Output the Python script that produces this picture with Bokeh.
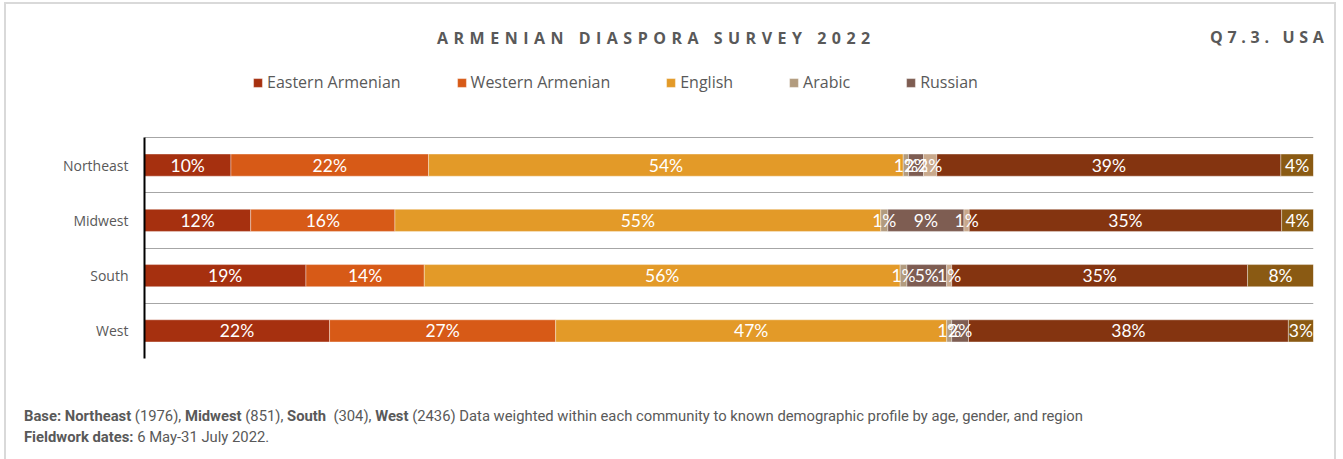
from bokeh.plotting import figure
from bokeh.models import (ColumnDataSource, Legend, LegendItem, LabelSet,
                          FixedTicker, Range1d, Div)
from bokeh.core.properties import value
from bokeh.layouts import column
from bokeh.embed import file_html
from bokeh.resources import INLINE

# ---------------- data (percent) ----------------
regions = ["Northeast", "Midwest", "South", "West"]
series = ["Eastern Armenian", "Western Armenian", "English", "Arabic", "Russian",
          "Other", "Mixed", "Don't know"]
eastern_armenian = [9.8, 12.0, 19.1, 22.1]
western_armenian = [22.4, 16.3, 14.0, 27.0]
english = [53.8, 54.9, 56.3, 46.7]
arabic = [0.6, 0.8, 0.8, 0.6]
russian = [1.7, 8.6, 4.7, 2.0]
other = [1.5, 0.6, 0.6, 0.0]
mixed = [39.0, 35.3, 35.0, 38.2]
dont_know = [3.7, 3.6, 7.8, 3.0]
colors = ["#A6300F", "#D75A17", "#E39A28", "#B29B7E", "#7E5D52",
          "#C9A98C", "#843410", "#8A5A13"]
legend_count = 5

values = [eastern_armenian, western_armenian, english, arabic, russian,
          other, mixed, dont_know]

# ---------------- build sources (100% stacked) ----------------
n = len(regions)
ypos = [n - i - 0.5 for i in range(n)]
totals = [sum(v[i] for v in values) for i in range(n)]
keys = [f"s{k}" for k in range(len(series))]
data = {"y": ypos}
for k, v in zip(keys, values):
    data[k] = [v[i] / totals[i] * 100 for i in range(n)]
source = ColumnDataSource(data)

lx, ly, lt = [], [], []
for i in range(n):
    cum = 0.0
    for v in values:
        w = v[i] / totals[i] * 100
        if v[i] > 0:
            lx.append(cum + w / 2)
            ly.append(ypos[i])
            lt.append(f"{round(v[i])}%")
        cum += w
label_source = ColumnDataSource(dict(x=lx, y=ly, t=lt))

# ---------------- figure ----------------
W = 1343
FRAME_H = 288          # frame height in px (top area holds the legend)
BARS_H = 221           # px occupied by the category rows
p = figure(width=W, height=320, output_backend="svg", toolbar_location=None,
           x_range=Range1d(0, 100), y_range=Range1d(0, n * FRAME_H / BARS_H),
           min_border_left=144, min_border_right=30,
           min_border_top=0, min_border_bottom=32)
p.outline_line_color = None
p.background_fill_color = None
p.border_fill_color = None

renderers = p.hbar_stack(keys, y="y", height=0.4, color=colors, source=source,
                         line_color="white", line_width=0.6, line_alpha=0.6)

labels = LabelSet(x="x", y="y", text="t", source=label_source,
                  text_align="center", text_baseline="middle",
                  text_color="white", text_font=value("Lato"),
                  text_font_size="17.5px")
p.add_layout(labels)

p.xaxis.visible = False
p.xgrid.visible = False
p.ygrid.ticker = FixedTicker(ticks=list(range(n + 1)))
p.ygrid.grid_line_color = "#A6A6A6"
p.ygrid.grid_line_width = 1

p.yaxis.ticker = FixedTicker(ticks=ypos)
p.yaxis.bounds = (0, n)
p.yaxis.major_label_overrides = {y: r for y, r in zip(ypos, regions)}
p.yaxis.axis_line_color = "black"
p.yaxis.axis_line_width = 2
p.yaxis.major_tick_line_color = None
p.yaxis.minor_tick_line_color = None
p.yaxis.major_label_standoff = 10
p.yaxis.major_label_text_font = "Open Sans"
p.yaxis.major_label_text_font_size = "14px"
p.yaxis.major_label_text_color = "#595959"

items = [LegendItem(label=series[k], renderers=[renderers[k]])
         for k in range(legend_count)]
legend = Legend(items=items, orientation="horizontal", location=(108, 265),
                spacing=55, padding=0, margin=0, glyph_width=11, glyph_height=11,
                label_standoff=4, label_text_font="Open Sans",
                label_text_font_size="16px", label_text_color="#595959",
                border_line_color=None, background_fill_alpha=0)
p.add_layout(legend, "center")

# ---------------- header / footer ----------------
header = Div(width=W, height=70, margin=0, text=(
    "<div style='position:relative;width:1343px;height:70px;font-family:\"Open Sans\";"
    "color:#595959;font-weight:bold;'>"
    "<div style='position:absolute;left:437px;top:27px;font-size:16px;letter-spacing:5.5px;"
    "white-space:nowrap;'>ARMENIAN DIASPORA SURVEY 2022</div>"
    "<div style='position:absolute;left:1210px;top:26px;font-size:16px;letter-spacing:4.7px;"
    "white-space:nowrap;'>Q7.3. USA</div></div>"))

footer = Div(width=W, height=69, margin=0, text=(
    "<div style='font-family:Roboto;font-size:14.8px;color:#595959;line-height:21px;"
    "padding-top:16px;padding-left:24px;white-space:nowrap;'>"
    "<b>Base: Northeast</b> (1976), <b>Midwest</b> (851), <b>South</b>&nbsp; (304), "
    "<b>West</b> (2436) Data weighted within each community to known demographic "
    "profile by age, gender, and region<br>"
    "<b>Fieldwork dates:</b> 6 May-31 July 2022.</div>"))

frame_style = {
    "background-color": "white",
    "background-image": ("linear-gradient(#D9D9D9,#D9D9D9),"
                         "linear-gradient(#D9D9D9,#D9D9D9),"
                         "linear-gradient(#D9D9D9,#D9D9D9)"),
    "background-size": "2px 100%, 1332px 2px, 2px 100%",
    "background-position": "4px 2px, 4px 2px, 1334px 2px",
    "background-repeat": "no-repeat",
}
layout = column(header, p, footer, spacing=0, styles=frame_style)
open("out.html", "w").write(file_html(layout, INLINE))
